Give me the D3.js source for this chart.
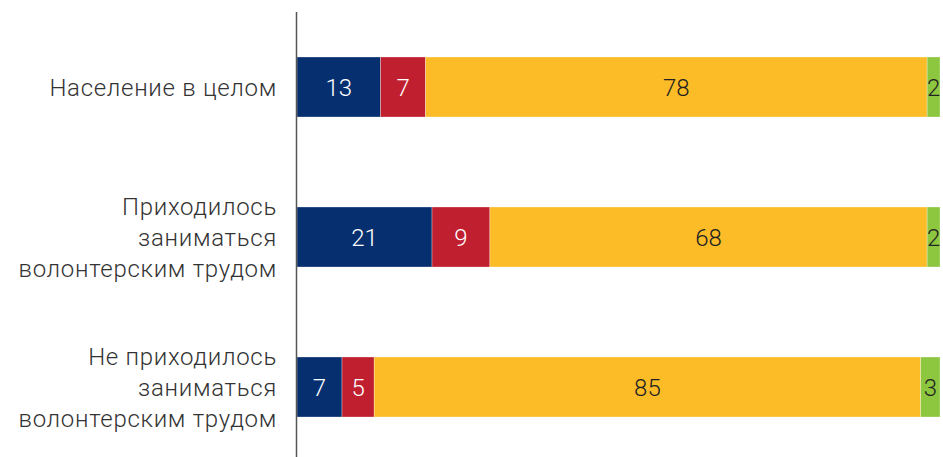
<!DOCTYPE html>
<html>
<head>
<meta charset="utf-8">
<script src="https://cdn.jsdelivr.net/npm/d3@7"></script>
<style>
  body { margin: 0; background: #fff; }
  text { font-family: Roboto, "Noto Sans", sans-serif; font-weight: 300; }
</style>
</head>
<body>
<div id="chart"></div>
<script>
var svgWidth = 943;
var svgHeight = 457;

// rows, top to bottom
var categories = [
  ["Население в целом"],
  ["Приходилось", "заниматься", "волонтерским трудом"],
  ["Не приходилось", "заниматься", "волонтерским трудом"]
];
var seriesA = [13, 21, 7];
var seriesB = [7, 9, 5];
var seriesC = [78, 68, 85];
var seriesD = [2, 2, 3];

var colors = ["#062f6f", "#c01f2f", "#fbbc27", "#8dc63f"];
var textColors = ["#fff", "#fff", "#222", "#222"];

var margin = { top: 12, right: 3, bottom: 0, left: 297 };
var width = svgWidth - margin.left - margin.right;
var height = svgHeight - margin.top - margin.bottom;

var svg = d3.select("#chart")
  .append("svg")
  .attr("width", svgWidth)
  .attr("height", svgHeight);

var chartGroup = svg.append("g")
  .attr("transform", `translate(${margin.left}, ${margin.top})`);

var xScale = d3.scaleLinear().domain([0, 100]).range([0, width]);
var yScale = d3.scaleBand()
  .domain(d3.range(categories.length))
  .range([0, 450])
  .paddingInner(0.6)
  .paddingOuter(0.3);

// stack the four series per row
var rows = categories.map(function(c, i) {
  return { i: i, vals: [seriesA[i], seriesB[i], seriesC[i], seriesD[i]] };
});

rows.forEach(function(row) {
  var acc = 0;
  row.vals.forEach(function(v, k) {
    var x0 = xScale(acc);
    var x1 = xScale(acc + v);
    acc += v;
    chartGroup.append("rect")
      .attr("x", x0)
      .attr("y", yScale(row.i))
      .attr("width", x1 - x0)
      .attr("height", yScale.bandwidth())
      .attr("fill", colors[k])
      .attr("stroke", "rgba(255,255,255,0.5)")
      .attr("stroke-width", 0.6);
    chartGroup.append("text")
      .attr("x", (x0 + x1) / 2)
      .attr("y", yScale(row.i) + yScale.bandwidth() / 2)
      .attr("dy", "0.36em")
      .attr("text-anchor", "middle")
      .attr("fill", textColors[k])
      .attr("font-size", "24px")
      .text(v);
  });
});

// vertical axis line
chartGroup.append("line")
  .attr("x1", -0.5).attr("x2", -0.5)
  .attr("y1", 0).attr("y2", height)
  .attr("stroke", "#555")
  .attr("stroke-width", 1.5);

// category labels
var lineH = 31;
categories.forEach(function(lines, i) {
  var cy = yScale(i) + yScale.bandwidth() / 2;
  var t = chartGroup.append("text")
    .attr("text-anchor", "end")
    .attr("fill", "#333")
    .attr("font-size", "24px")
    .attr("letter-spacing", "0.7px");
  lines.forEach(function(l, j) {
    t.append("tspan")
      .attr("x", -20)
      .attr("y", cy + (j - (lines.length - 1) / 2) * lineH)
      .attr("dy", "0.36em")
      .text(l);
  });
});
</script>
</body>
</html>
